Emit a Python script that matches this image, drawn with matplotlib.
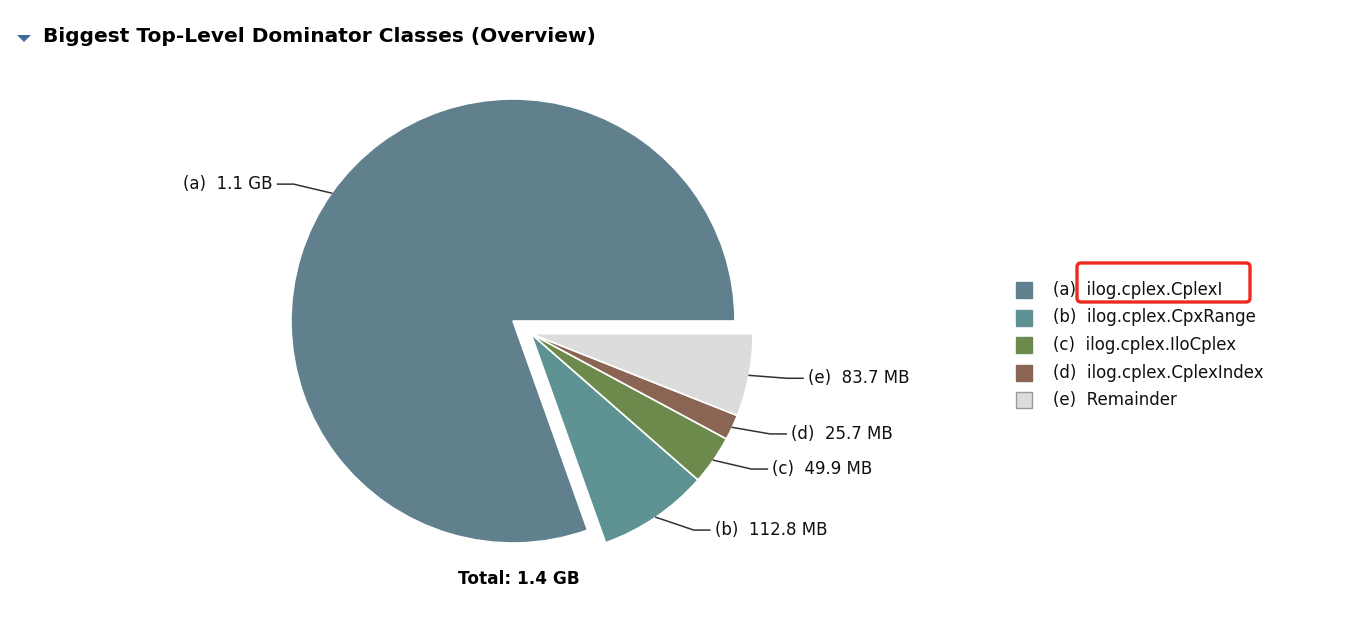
import numpy as np
import matplotlib
matplotlib.use("Agg")
import matplotlib.pyplot as plt
from matplotlib.patches import Rectangle, FancyBboxPatch, Polygon

# data (MB)
letters = ["a", "b", "c", "d", "e"]
class_names = ["ilog.cplex.CplexI", "ilog.cplex.CpxRange", "ilog.cplex.IloCplex",
               "ilog.cplex.CplexIndex", "Remainder"]
sizes_mb = [1120.0, 112.8, 49.9, 25.7, 83.7]
colors = ["#60808E", "#5F9393", "#6B8A4B", "#8B6554", "#DCDCDC"]

W, H = 1369, 620


def fmt_size(v):
    if v >= 1024:
        return f"{v / 1024:.1f} GB"
    return f"{v:.1f} MB"


fig = plt.figure(figsize=(W / 100, H / 100), dpi=100)
ax = fig.add_axes([0, 0, 1, 1])

font = ["DejaVu Sans"]

# pie
cx, cy, r = 513, H - 321, 222
wedges, _ = ax.pie(sizes_mb, colors=colors, startangle=0, counterclock=True,
                   center=(cx, cy), radius=r, frame=True,
                   wedgeprops=dict(edgecolor="white", linewidth=1.2))
ax.set_xlim(0, W)
ax.set_ylim(0, H)
ax.set_aspect("equal")
ax.axis("off")

# header
ax.add_patch(Polygon([(17, H - 35), (31, H - 35), (24, H - 42)], closed=True,
                     color="#3B6C9C", lw=0))
ax.text(43, H - 37, "Biggest Top-Level Dominator Classes (Overview)",
        fontsize=14.5, fontweight="bold", va="center", ha="left", family=font)

# explode the small slices together along the group mid-angle
g1 = wedges[1].theta1
g2 = wedges[-1].theta2
gmid = np.deg2rad((g1 + g2) / 2)
shift = 22
ox, oy = cx + shift * np.cos(gmid), cy + shift * np.sin(gmid)
for w in wedges[1:]:
    w.set_center((ox, oy))

# labels with leader lines
for i, w in enumerate(wedges):
    px, py = w.center
    mid = np.deg2rad((w.theta1 + w.theta2) / 2)
    ex, ey = px + r * np.cos(mid), py + r * np.sin(mid)
    side = 1 if np.cos(mid) >= 0 else -1
    bx = ex + side * 38
    by = ey + 0.07 * r * np.sin(mid)
    hx = bx + side * 16
    ax.plot([ex, bx, hx], [ey, by, by], color="#333333", lw=1.1)
    ax.text(hx + side * 5, by, f"({letters[i]})  {fmt_size(sizes_mb[i])}",
            fontsize=12, va="center", ha="left" if side > 0 else "right",
            family=font, color="#111111")

ax.text(519, H - 579, f"Total: {fmt_size(sum(sizes_mb))}", fontsize=12.2,
        fontweight="bold", ha="center", va="center", family=font)

# legend
lx, ly0, step = 1016, H - 290, 27.5
for i, name in enumerate(class_names):
    y = ly0 - i * step
    ec = "#999999" if i == len(class_names) - 1 else colors[i]
    ax.add_patch(Rectangle((lx, y - 8), 16, 16, facecolor=colors[i],
                           edgecolor=ec, lw=1))
    ax.text(1053, y, f"({letters[i]})  {name}", fontsize=12, va="center",
            ha="left", family=font, color="#111111")

# red highlight box
ax.add_patch(FancyBboxPatch((1077, H - 302), 173, 39,
                            boxstyle="round,pad=0,rounding_size=4",
                            facecolor="none", edgecolor="#EE2A1E", lw=2.4))

fig.savefig("out.png", dpi=100)
